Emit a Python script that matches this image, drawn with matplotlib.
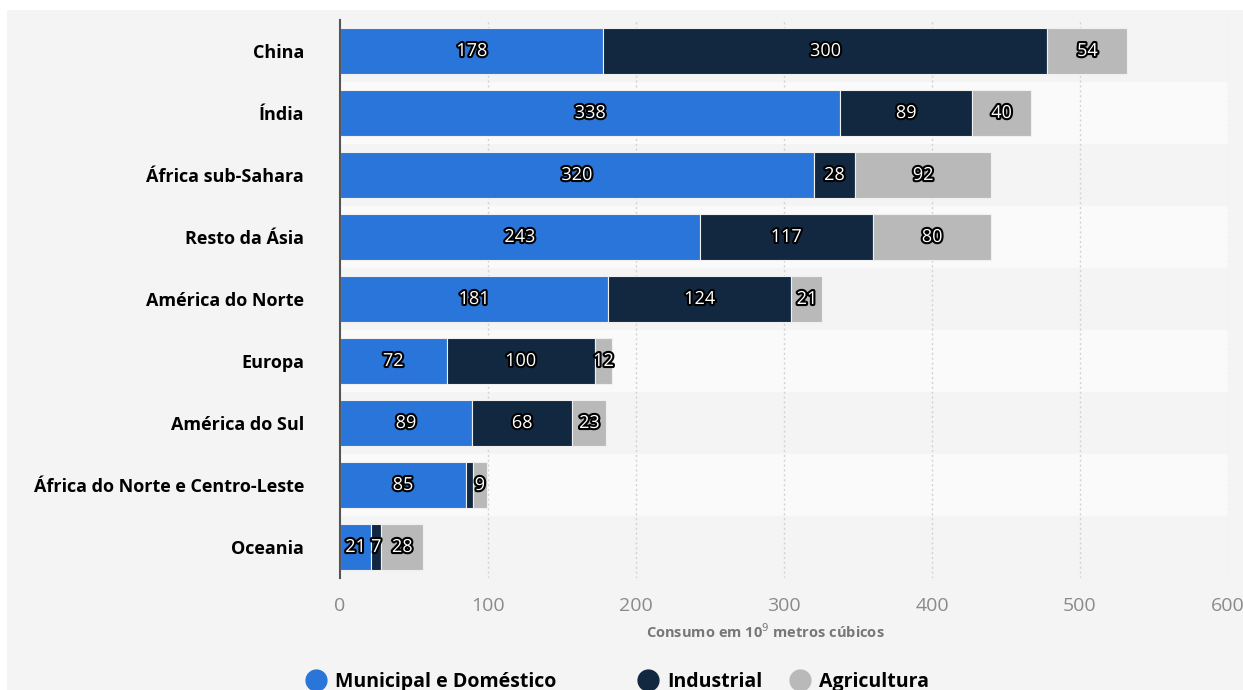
import matplotlib
matplotlib.use("Agg")
import matplotlib.pyplot as plt
import matplotlib.patheffects as pe
from matplotlib.patches import Rectangle
from matplotlib.lines import Line2D

categories = ["China", "Índia", "África sub-Sahara", "Resto da Ásia", "América do Norte",
              "Europa", "América do Sul", "África do Norte e Centro-Leste", "Oceania"]
municipal = [178, 338, 320, 243, 181, 72, 89, 85, 21]
industrial = [300, 89, 28, 117, 124, 100, 68, 5, 7]
agricultura = [54, 40, 92, 80, 21, 12, 23, 9, 28]
series_names = ["Municipal e Doméstico", "Industrial", "Agricultura"]
colors = ["#2a75d9", "#112840", "#b9b9b9"]
xticks = [0, 100, 200, 300, 400, 500, 600]

plt.rcParams['font.family'] = ['Open Sans', 'DejaVu Sans']

fig = plt.figure(figsize=(12.43, 6.9), dpi=100, facecolor="#f4f4f4")
# white strips at top and left edges
fig.patches.append(Rectangle((0, 1 - 10/690), 1, 10/690, transform=fig.transFigure,
                             facecolor="white", edgecolor="none", zorder=-1))
fig.patches.append(Rectangle((0, 0), 7/1243, 1, transform=fig.transFigure,
                             facecolor="white", edgecolor="none", zorder=-1))

ax = fig.add_axes([340/1243, 1 - 578/690, 888/1243, 558/690])
ax.set_facecolor("#f4f4f4")

n = len(categories)
ys = list(range(n))
for i in ys:
    if i % 2 == 1:
        ax.axhspan(i - 0.5, i + 0.5, facecolor="#fafafa", edgecolor="none", zorder=0)

for x in xticks[1:]:
    ax.axvline(x, color="#d2d2d2", linestyle=(0, (1.5, 2)), linewidth=1, zorder=1)

left = [0] * n
stroke = [pe.Stroke(linewidth=3, foreground="black"), pe.Normal()]
for vals, name, c in zip([municipal, industrial, agricultura], series_names, colors):
    ax.barh(ys, vals, left=left, height=0.74, color=c, edgecolor="#f0f0f0",
            linewidth=0.8, zorder=2, label=name)
    for y, v, l in zip(ys, vals, left):
        if v > 5:
            ax.text(l + v / 2, y, str(v), ha="center", va="center", color="white",
                    fontsize=13, zorder=3, path_effects=stroke)
    left = [a + b for a, b in zip(left, vals)]

ax.set_ylim(n - 0.5, -0.5)
ax.set_xlim(0, 600)
ax.set_yticks(ys)
ax.set_yticklabels(categories, fontsize=13, fontweight="bold", color="black")
ax.set_xticks(xticks)
ax.set_xticklabels([str(x) for x in xticks], fontsize=14, color="#8a8a8a")
ax.tick_params(axis="y", length=0, pad=26)
ax.tick_params(axis="x", length=0, pad=14)
for s in ["top", "right", "bottom"]:
    ax.spines[s].set_visible(False)
ax.spines["left"].set_color("#555555")
ax.spines["left"].set_linewidth(1.5)

fig.text(765/1243, 1 - 632/690, "Consumo em 10$^{9}$ metros cúbicos", ha="center", va="center",
         fontsize=10.5, fontweight="bold", color="#777777")

# legend entries placed individually (uneven spacing as in the original)
legend_x = [302, 634, 786]
for name, c, lx in zip(series_names, colors, legend_x):
    h = Line2D([0], [0], marker="o", linestyle="none", markersize=15,
               markerfacecolor=c, markeredgecolor=c)
    leg = fig.legend([h], [name], loc="center left", bbox_to_anchor=(lx/1243, 1 - 682/690),
                     frameon=False, handletextpad=0.3, borderpad=0, borderaxespad=0,
                     handlelength=1.4, prop={"size": 14, "weight": "bold"})

fig.savefig("out.png", dpi=100, facecolor=fig.get_facecolor())
